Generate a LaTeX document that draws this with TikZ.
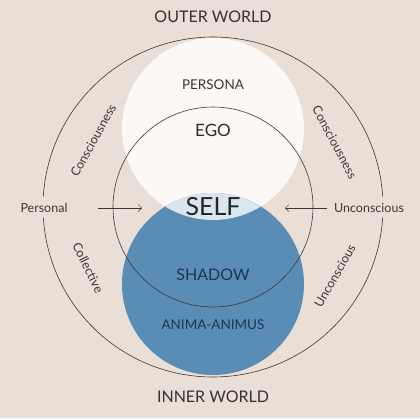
\documentclass[tikz,border=0pt]{standalone}
\usepackage{fontspec}
\setmainfont{Lato}
\usetikzlibrary{arrows.meta, positioning}
\definecolor{fond}{HTML}{EADFD6}
\definecolor{blanc}{HTML}{FBF8F5}
\definecolor{bleu}{HTML}{5A8DB6}
\definecolor{lentille}{HTML}{D9E6EE}
\definecolor{trait}{HTML}{3E3636}
\definecolor{encre}{HTML}{1E3450}
\tikzset{
    %Define standard arrow tip
    >={Straight Barb[length=3.5pt,width=7pt]},
    % Define style for the big discs
    disque/.style={
           circle,
           inner sep=0pt,
           minimum size=182pt},
    % Define style for the labels
    titre/.style={
           text=trait!90!black,
           font=\fontsize{16}{18}\selectfont},
    etiq/.style={
           text=trait,
           font=\fontsize{12.5}{14}\selectfont},
    % Define arrow style
    pil/.style={
           ->,
           draw=trait,
           line width=0.5pt,
           shorten <=28pt}
}

\begin{document}
\begin{tikzpicture}[x=1pt, y=1pt]
	%
	% fond
	%
	\fill[fond] (-213,-211) rectangle (207,207);
	\useasboundingbox (-213,-211) rectangle (207,207);
	%
	% disques
	%
	\node[disque, fill=blanc] (persona) at (0,78) {};
	\node[disque, fill=bleu] (shadow) at (0,-77) {};
	\begin{scope}
		\clip (0,78) circle (91);
		\fill[lentille] (0,-77) circle (91);
	\end{scope}
	%
	% cercles
	%
	\node[circle, inner sep=0pt, minimum size=200pt, draw=trait, line width=0.6pt] (ego) at (0,0) {};
	\draw[trait, line width=0.6pt] (3.5:170) arc (3.5:176.5:170);
	\draw[trait, line width=0.6pt] (183.5:170) arc (183.5:356.5:170);
	%
	% noeuds
	%
	\node[titre] (outer) at (0,190) {OUTER WORLD};
	\node[titre] (inner) at (0,-190) {INNER WORLD};
	\node[text=trait, font=\fontsize{13.5}{16}\selectfont] (lpersona) at (0,122) {PERSONA};
	\node[text=trait!80!black, font=\fontsize{17}{19}\selectfont] (lego) at (0,77) {EGO};
	\node[text=black!85, font=\fontsize{25}{28}\selectfont] (self) at (0,0) {SELF};
	\node[text=encre, font=\fontsize{16}{18}\selectfont] (lshadow) at (0,-68) {SHADOW};
	\node[text=encre, font=\fontsize{13.5}{15}\selectfont] (anima) at (0,-118) {ANIMA-ANIMUS};
	\node[etiq] (personal) at (-169,-1) {Personal};
	\node[etiq] (unconscious) at (156,-1) {Unconscious};
	\node[etiq, rotate=61] (conscl) at (151:137) {Consciousness};
	\node[etiq, rotate=-62] (conscr) at (28:138) {Consciousness};
	\node[etiq, rotate=-64] (collective) at (206:139) {Collective};
	\node[etiq, rotate=60] (unconsc) at (-29.5:140) {Unconscious};
	%
	% Liens
	%
	\coordinate (pointl) at (-71,-1);
	\coordinate (pointr) at (72,-1);
	\draw[pil, shorten <=27pt] (personal.east) -- (pointl);
	\draw[pil, shorten <=4pt] (unconscious.west) -- (pointr);
\end{tikzpicture}
\end{document}
